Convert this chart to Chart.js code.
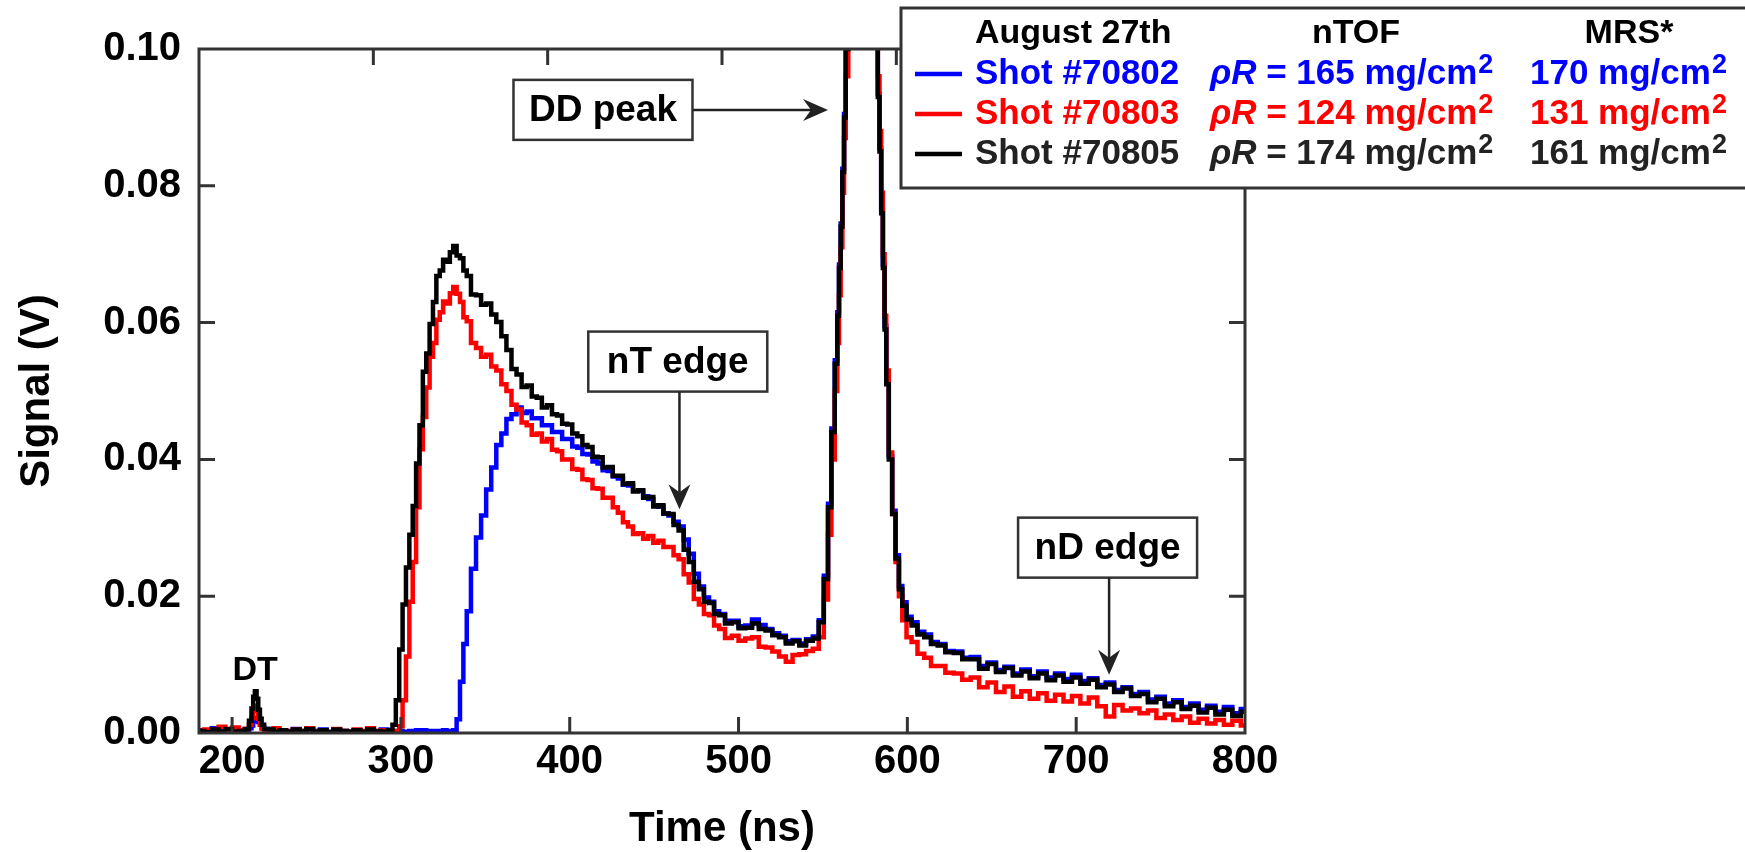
<!DOCTYPE html>
<html>
<head>
<meta charset="utf-8">
<script src="https://cdn.jsdelivr.net/npm/chart.js@4.4.1/dist/chart.umd.min.js"></script>
<style>
  html, body { margin: 0; padding: 0; background: #fff; }
  canvas { display: block; }
</style>
</head>
<body>
<canvas id="nTOFChart" width="1745" height="852"></canvas>
<script>
// time base (ns), shared by the three shots
const times = [
  181, 186, 190, 194, 198, 202, 206, 209, 211, 212,
  213, 214, 215, 216, 217, 218, 220, 223, 226, 230,
  234, 238, 242, 246, 250, 254, 258, 262, 266, 270,
  274, 278, 282, 286, 290, 294, 296, 298, 300, 302,
  304, 306, 308, 310, 312, 314, 316, 318, 320, 322,
  324, 326, 328, 330, 332, 334, 336, 338, 340, 343,
  346, 349, 352, 355, 358, 361, 364, 367, 370, 373,
  376, 379, 382, 385, 388, 391, 394, 397, 400, 403,
  406, 409, 412, 415, 418, 421, 424, 427, 430, 433,
  436, 439, 442, 445, 448, 451, 454, 457, 460, 463,
  466, 469, 472, 475, 478, 481, 484, 487, 490, 494,
  498, 502, 506, 510, 514, 518, 522, 526, 530, 534,
  538, 542, 546, 549, 552, 554, 556, 558, 559, 560,
  561, 562, 563, 564, 566, 570, 574, 578, 580, 582,
  583, 584, 585, 586, 587, 588, 590, 592, 594, 596,
  598, 601, 604, 608, 612, 616, 620, 625, 630, 635,
  640, 645, 650, 655, 660, 665, 670, 675, 680, 685,
  690, 695, 700, 705, 710, 715, 720, 725, 730, 735,
  740, 745, 750, 755, 760, 765, 770, 775, 780, 785,
  790, 795, 800
];

// signal (V), shot #70805 (black)
const shot70805 = [
  0.0003, 0.0001, 0.0005, 0.0002, 0.0006, 0.0002, 0.0003, 0.0006, 0.0018, 0.0036,
  0.0053, 0.0061, 0.0050, 0.0034, 0.0021, 0.0012, 0.0006, 0.0005, 0.0002, 0.0004,
  0.0002, 0.0005, 0.0003, 0.0006, 0.0002, 0.0004, 0.0001, 0.0005, 0.0003, 0.0002,
  0.0004, 0.0002, 0.0005, 0.0003, 0.0002, 0.0004, 0.0012, 0.0048, 0.0122, 0.0188,
  0.0242, 0.0290, 0.0332, 0.0394, 0.0450, 0.0528, 0.0555, 0.0598, 0.0630, 0.0668,
  0.0676, 0.0692, 0.0689, 0.0703, 0.0712, 0.0698, 0.0694, 0.0676, 0.0668, 0.0641,
  0.0640, 0.0626, 0.0628, 0.0612, 0.0601, 0.0580, 0.0560, 0.0532, 0.0524, 0.0506,
  0.0508, 0.0492, 0.0490, 0.0476, 0.0479, 0.0466, 0.0464, 0.0452, 0.0451, 0.0438,
  0.0434, 0.0421, 0.0418, 0.0404, 0.0403, 0.0388, 0.0389, 0.0376, 0.0376, 0.0364,
  0.0365, 0.0353, 0.0355, 0.0344, 0.0345, 0.0331, 0.0333, 0.0321, 0.0320, 0.0304,
  0.0296, 0.0268, 0.0250, 0.0221, 0.0210, 0.0192, 0.0190, 0.0174, 0.0172, 0.0160,
  0.0162, 0.0153, 0.0154, 0.0160, 0.0152, 0.0150, 0.0143, 0.0140, 0.0131, 0.0134,
  0.0128, 0.0135, 0.0138, 0.0162, 0.0225, 0.0330, 0.0440, 0.0540, 0.0610, 0.0680,
  0.0740, 0.0820, 0.0900, 0.1000, 0.1150, 0.1300, 0.1300, 0.1200, 0.1100, 0.1010,
  0.0930, 0.0850, 0.0760, 0.0680, 0.0590, 0.0510, 0.0400, 0.0320, 0.0255, 0.0210,
  0.0186, 0.0166, 0.0157, 0.0144, 0.0140, 0.0130, 0.0128, 0.0118, 0.0117, 0.0108,
  0.0108, 0.0094, 0.0101, 0.0089, 0.0095, 0.0084, 0.0090, 0.0080, 0.0087, 0.0077,
  0.0084, 0.0075, 0.0081, 0.0072, 0.0078, 0.0067, 0.0071, 0.0060, 0.0065, 0.0054,
  0.0057, 0.0045, 0.0050, 0.0039, 0.0045, 0.0035, 0.0040, 0.0030, 0.0037, 0.0027,
  0.0034, 0.0025, 0.0031
];

// signal (V), shot #70803 (red)
const shot70803 = [
  0.0002, 0.0005, 0.0003, 0.0009, 0.0003, 0.0008, 0.0004, 0.0006, 0.0012, 0.0022,
  0.0033, 0.0040, 0.0032, 0.0021, 0.0012, 0.0006, 0.0003, 0.0003, 0.0007, 0.0003,
  0.0002, 0.0005, 0.0003, 0.0007, 0.0002, 0.0003, 0.0001, 0.0006, 0.0003, 0.0002,
  0.0005, 0.0003, 0.0007, 0.0002, 0.0004, 0.0002, 0.0002, 0.0003, 0.0010, 0.0048,
  0.0112, 0.0192, 0.0250, 0.0330, 0.0415, 0.0462, 0.0505, 0.0550, 0.0570, 0.0604,
  0.0615, 0.0631, 0.0628, 0.0643, 0.0652, 0.0642, 0.0630, 0.0608, 0.0602, 0.0570,
  0.0563, 0.0550, 0.0553, 0.0536, 0.0530, 0.0510, 0.0500, 0.0480, 0.0473, 0.0454,
  0.0450, 0.0436, 0.0438, 0.0426, 0.0430, 0.0414, 0.0412, 0.0400, 0.0400, 0.0386,
  0.0385, 0.0371, 0.0370, 0.0358, 0.0357, 0.0344, 0.0344, 0.0330, 0.0322, 0.0308,
  0.0302, 0.0291, 0.0292, 0.0284, 0.0288, 0.0278, 0.0281, 0.0272, 0.0272, 0.0260,
  0.0254, 0.0232, 0.0220, 0.0196, 0.0188, 0.0174, 0.0172, 0.0157, 0.0152, 0.0139,
  0.0142, 0.0135, 0.0138, 0.0140, 0.0126, 0.0125, 0.0119, 0.0112, 0.0104, 0.0114,
  0.0115, 0.0120, 0.0123, 0.0140, 0.0195, 0.0290, 0.0400, 0.0500, 0.0570, 0.0640,
  0.0710, 0.0790, 0.0870, 0.0960, 0.1120, 0.1300, 0.1300, 0.1200, 0.1120, 0.1030,
  0.0960, 0.0880, 0.0790, 0.0700, 0.0610, 0.0530, 0.0410, 0.0320, 0.0250, 0.0200,
  0.0165, 0.0140, 0.0133, 0.0116, 0.0110, 0.0098, 0.0098, 0.0088, 0.0087, 0.0078,
  0.0081, 0.0067, 0.0074, 0.0060, 0.0068, 0.0053, 0.0061, 0.0050, 0.0058, 0.0047,
  0.0056, 0.0046, 0.0054, 0.0043, 0.0052, 0.0039, 0.0024, 0.0041, 0.0033, 0.0036,
  0.0029, 0.0033, 0.0022, 0.0027, 0.0019, 0.0024, 0.0015, 0.0021, 0.0014, 0.0019,
  0.0012, 0.0018, 0.0011
];

// signal (V), shot #70802 (blue)
const shot70802 = [
  0.0004, 0.0002, 0.0007, 0.0003, 0.0005, 0.0002, 0.0004, 0.0003, 0.0007, 0.0011,
  0.0017, 0.0022, 0.0021, 0.0016, 0.0012, 0.0008, 0.0006, 0.0003, 0.0005, 0.0002,
  0.0003, 0.0006, 0.0002, 0.0005, 0.0003, 0.0005, 0.0002, 0.0004, 0.0003, 0.0002,
  0.0004, 0.0002, 0.0003, 0.0002, 0.0005, 0.0002, 0.0003, 0.0001, 0.0003, 0.0002,
  0.0002, 0.0003, 0.0001, 0.0004, 0.0002, 0.0004, 0.0002, 0.0003, 0.0002, 0.0003,
  0.0002, 0.0004, 0.0002, 0.0003, 0.0004, 0.0020, 0.0075, 0.0130, 0.0178, 0.0240,
  0.0286, 0.0318, 0.0356, 0.0388, 0.0421, 0.0438, 0.0459, 0.0466, 0.0476, 0.0468,
  0.0470, 0.0460, 0.0460, 0.0450, 0.0450, 0.0440, 0.0440, 0.0430, 0.0430, 0.0419,
  0.0417, 0.0408, 0.0407, 0.0397, 0.0394, 0.0384, 0.0383, 0.0375, 0.0372, 0.0363,
  0.0362, 0.0354, 0.0354, 0.0346, 0.0342, 0.0333, 0.0331, 0.0321, 0.0318, 0.0309,
  0.0302, 0.0283, 0.0262, 0.0233, 0.0214, 0.0198, 0.0192, 0.0178, 0.0174, 0.0164,
  0.0164, 0.0156, 0.0157, 0.0166, 0.0158, 0.0152, 0.0146, 0.0142, 0.0134, 0.0136,
  0.0131, 0.0137, 0.0141, 0.0165, 0.0230, 0.0335, 0.0445, 0.0545, 0.0615, 0.0685,
  0.0745, 0.0825, 0.0905, 0.1000, 0.1150, 0.1300, 0.1300, 0.1200, 0.1100, 0.1010,
  0.0935, 0.0855, 0.0765, 0.0685, 0.0595, 0.0515, 0.0405, 0.0325, 0.0260, 0.0215,
  0.0191, 0.0170, 0.0162, 0.0148, 0.0144, 0.0133, 0.0130, 0.0120, 0.0119, 0.0110,
  0.0111, 0.0098, 0.0103, 0.0092, 0.0097, 0.0087, 0.0093, 0.0083, 0.0090, 0.0081,
  0.0087, 0.0079, 0.0085, 0.0076, 0.0080, 0.0070, 0.0074, 0.0063, 0.0067, 0.0057,
  0.0060, 0.0049, 0.0053, 0.0043, 0.0048, 0.0038, 0.0043, 0.0034, 0.0040, 0.0031,
  0.0038, 0.0029, 0.0035
];

const xTickValues = [200, 300, 400, 500, 600, 700, 800];
const yTickValues = [0, 0.02, 0.04, 0.06, 0.08, 0.10];

// legend table
const shotNames = ['Shot #70802', 'Shot #70803', 'Shot #70805'];
const ntofRhoR = [165, 124, 174];
const mrsRhoR = [170, 131, 161];

const lineColors = ['#0000ff', '#ff0000', '#000000'];
const textColors = ['#0000ff', '#ff0000', '#222222'];
const FONT = "'Liberation Sans', Arial, Helvetica, sans-serif";

// callouts, anchored in data units
const callouts = [
  { text: 'DD peak', x: 419.7, y: 0.0911, dir: 'right', tipX: 553, tipY: 0.0911 },
  { text: 'nT edge', x: 464, y: 0.0543, dir: 'down', tipX: 465, tipY: 0.0327 },
  { text: 'nD edge', x: 718.6, y: 0.0271, dir: 'down', tipX: 719.5, tipY: 0.0085 }
];

function toXY(vals) {
  return times.map((t, i) => ({ x: t, y: vals[i] }));
}

function drawArrow(ctx, x1, y1, x2, y2) {
  const ang = Math.atan2(y2 - y1, x2 - x1);
  const L = 25, W = 11, N = 17;
  ctx.beginPath();
  ctx.moveTo(x1, y1);
  ctx.lineTo(x2 - Math.cos(ang) * N, y2 - Math.sin(ang) * N);
  ctx.stroke();
  ctx.save();
  ctx.translate(x2, y2);
  ctx.rotate(ang);
  ctx.beginPath();
  ctx.moveTo(0, 0);
  ctx.lineTo(-L, -W);
  ctx.lineTo(-N, 0);
  ctx.lineTo(-L, W);
  ctx.closePath();
  ctx.fill();
  ctx.restore();
}

const frameAndTicks = {
  id: 'frameAndTicks',
  afterDatasetsDraw(chart) {
    const { ctx, chartArea: a, scales } = chart;
    const tl = 16;
    ctx.save();
    ctx.strokeStyle = '#333';
    ctx.lineWidth = 3;
    ctx.beginPath();
    xTickValues.forEach(v => {
      const pb = scales.x.getPixelForValue(v);
      if (pb > a.left + 3 && pb < a.right - 3) {
        ctx.moveTo(pb, a.bottom); ctx.lineTo(pb, a.bottom - tl);
      }
      const pt = scales.x2.getPixelForValue(v);
      if (pt > a.left + 3 && pt < a.right - 3) {
        ctx.moveTo(pt, a.top); ctx.lineTo(pt, a.top + tl);
      }
    });
    yTickValues.forEach(v => {
      const py = scales.y.getPixelForValue(v);
      if (py > a.top + 3 && py < a.bottom - 3) {
        ctx.moveTo(a.left, py); ctx.lineTo(a.left + tl, py);
        ctx.moveTo(a.right, py); ctx.lineTo(a.right - tl, py);
      }
    });
    ctx.stroke();
    ctx.strokeRect(a.left, a.top, a.right - a.left, a.bottom - a.top);
    ctx.restore();
  }
};

const notes = {
  id: 'notes',
  afterDraw(chart) {
    const { ctx, scales } = chart;
    const sx = scales.x, sy = scales.y;
    ctx.save();

    // DT label
    ctx.fillStyle = '#000';
    ctx.font = `bold 34px ${FONT}`;
    ctx.textAlign = 'center';
    ctx.textBaseline = 'middle';
    ctx.fillText('DT', sx.getPixelForValue(213.6), sy.getPixelForValue(0.0091));

    // boxed callouts with arrows
    const bw = 179, bh = 60;
    callouts.forEach(c => {
      const cx = sx.getPixelForValue(c.x), cy = sy.getPixelForValue(c.y);
      ctx.fillStyle = '#fff';
      ctx.fillRect(cx - bw / 2, cy - bh / 2, bw, bh);
      ctx.strokeStyle = '#333';
      ctx.lineWidth = 2.5;
      ctx.strokeRect(cx - bw / 2, cy - bh / 2, bw, bh);
      ctx.fillStyle = '#000';
      ctx.font = `bold 37px ${FONT}`;
      ctx.fillText(c.text, cx, cy + 1);
      ctx.strokeStyle = '#222';
      ctx.fillStyle = '#222';
      ctx.lineWidth = 2.5;
      const tx = sx.getPixelForValue(c.tipX), ty = sy.getPixelForValue(c.tipY);
      if (c.dir === 'right') drawArrow(ctx, cx + bw / 2, cy, tx, cy);
      else drawArrow(ctx, tx, cy + bh / 2, tx, ty);
    });

    // legend table
    ctx.fillStyle = '#fff';
    ctx.fillRect(901, 8, 860, 180);
    ctx.strokeStyle = '#333';
    ctx.lineWidth = 3;
    ctx.strokeRect(901, 8, 860, 180);

    ctx.fillStyle = '#000';
    ctx.font = `bold 34px ${FONT}`;
    ctx.textAlign = 'left';
    ctx.fillText('August 27th', 975, 34);
    ctx.textAlign = 'center';
    ctx.fillText('nTOF', 1356, 34);
    ctx.fillText('MRS*', 1629, 34);

    ctx.textAlign = 'left';
    shotNames.forEach((name, i) => {
      const y = 74 + i * 40;
      ctx.strokeStyle = lineColors[i];
      ctx.lineWidth = 4.5;
      ctx.beginPath();
      ctx.moveTo(915, y);
      ctx.lineTo(962, y);
      ctx.stroke();

      ctx.fillStyle = textColors[i];
      ctx.font = `bold 35px ${FONT}`;
      ctx.fillText(name, 975, y);

      let x = 1210;
      ctx.font = `italic bold 35px ${FONT}`;
      ctx.fillText('\u03C1R', x, y);
      x += ctx.measureText('\u03C1R').width;
      ctx.font = `bold 35px ${FONT}`;
      const s1 = ' = ' + ntofRhoR[i] + ' mg/cm';
      ctx.fillText(s1, x, y);
      x += ctx.measureText(s1).width;
      ctx.font = `bold 27px ${FONT}`;
      ctx.fillText('2', x + 1, y - 8);

      x = 1530;
      ctx.font = `bold 35px ${FONT}`;
      const s2 = mrsRhoR[i] + ' mg/cm';
      ctx.fillText(s2, x, y);
      x += ctx.measureText(s2).width;
      ctx.font = `bold 27px ${FONT}`;
      ctx.fillText('2', x + 1, y - 8);
    });

    ctx.restore();
  }
};

const tickFont = { family: FONT, size: 40, weight: 'bold' };
const titleFont = { family: FONT, size: 42, weight: 'bold', lineHeight: 1 };

new Chart(document.getElementById('nTOFChart'), {
  type: 'line',
  data: {
    datasets: [
      { label: 'Shot #70805', data: toXY(shot70805), borderColor: lineColors[2] },
      { label: 'Shot #70803', data: toXY(shot70803), borderColor: lineColors[1] },
      { label: 'Shot #70802', data: toXY(shot70802), borderColor: lineColors[0] }
    ]
  },
  options: {
    responsive: false,
    animation: false,
    events: [],
    datasets: {
      line: { borderWidth: 4.5, pointRadius: 0, tension: 0, fill: false, stepped: 'middle' }
    },
    layout: { padding: { left: 0, top: 49, right: 500, bottom: 0 } },
    plugins: { legend: { display: false }, tooltip: { enabled: false } },
    scales: {
      x: {
        type: 'linear',
        position: 'bottom',
        min: 180.4,
        max: 800,
        afterBuildTicks: s => { s.ticks = xTickValues.map(v => ({ value: v })); },
        afterFit: s => { s.height = 119; },
        grid: { display: false, drawTicks: false },
        border: { display: false },
        ticks: { font: tickFont, color: '#000', padding: 5, maxRotation: 0, autoSkip: false },
        title: { display: true, text: 'Time (ns)', font: titleFont, color: '#000', padding: { top: 0, bottom: 2 } }
      },
      x2: {
        type: 'linear',
        position: 'top',
        min: 200,
        max: 800,
        display: false
      },
      y: {
        type: 'linear',
        position: 'left',
        min: 0,
        max: 0.1,
        afterBuildTicks: s => { s.ticks = yTickValues.map(v => ({ value: v })); },
        afterFit: s => { s.width = 199; },
        grid: { display: false, drawTicks: false },
        border: { display: false },
        ticks: { font: tickFont, color: '#000', padding: 18, callback: v => v.toFixed(2) },
        title: { display: true, text: 'Signal (V)', font: titleFont, color: '#000', padding: { top: 16, bottom: 0 } }
      }
    }
  },
  plugins: [frameAndTicks, notes]
});
</script>
</body>
</html>
